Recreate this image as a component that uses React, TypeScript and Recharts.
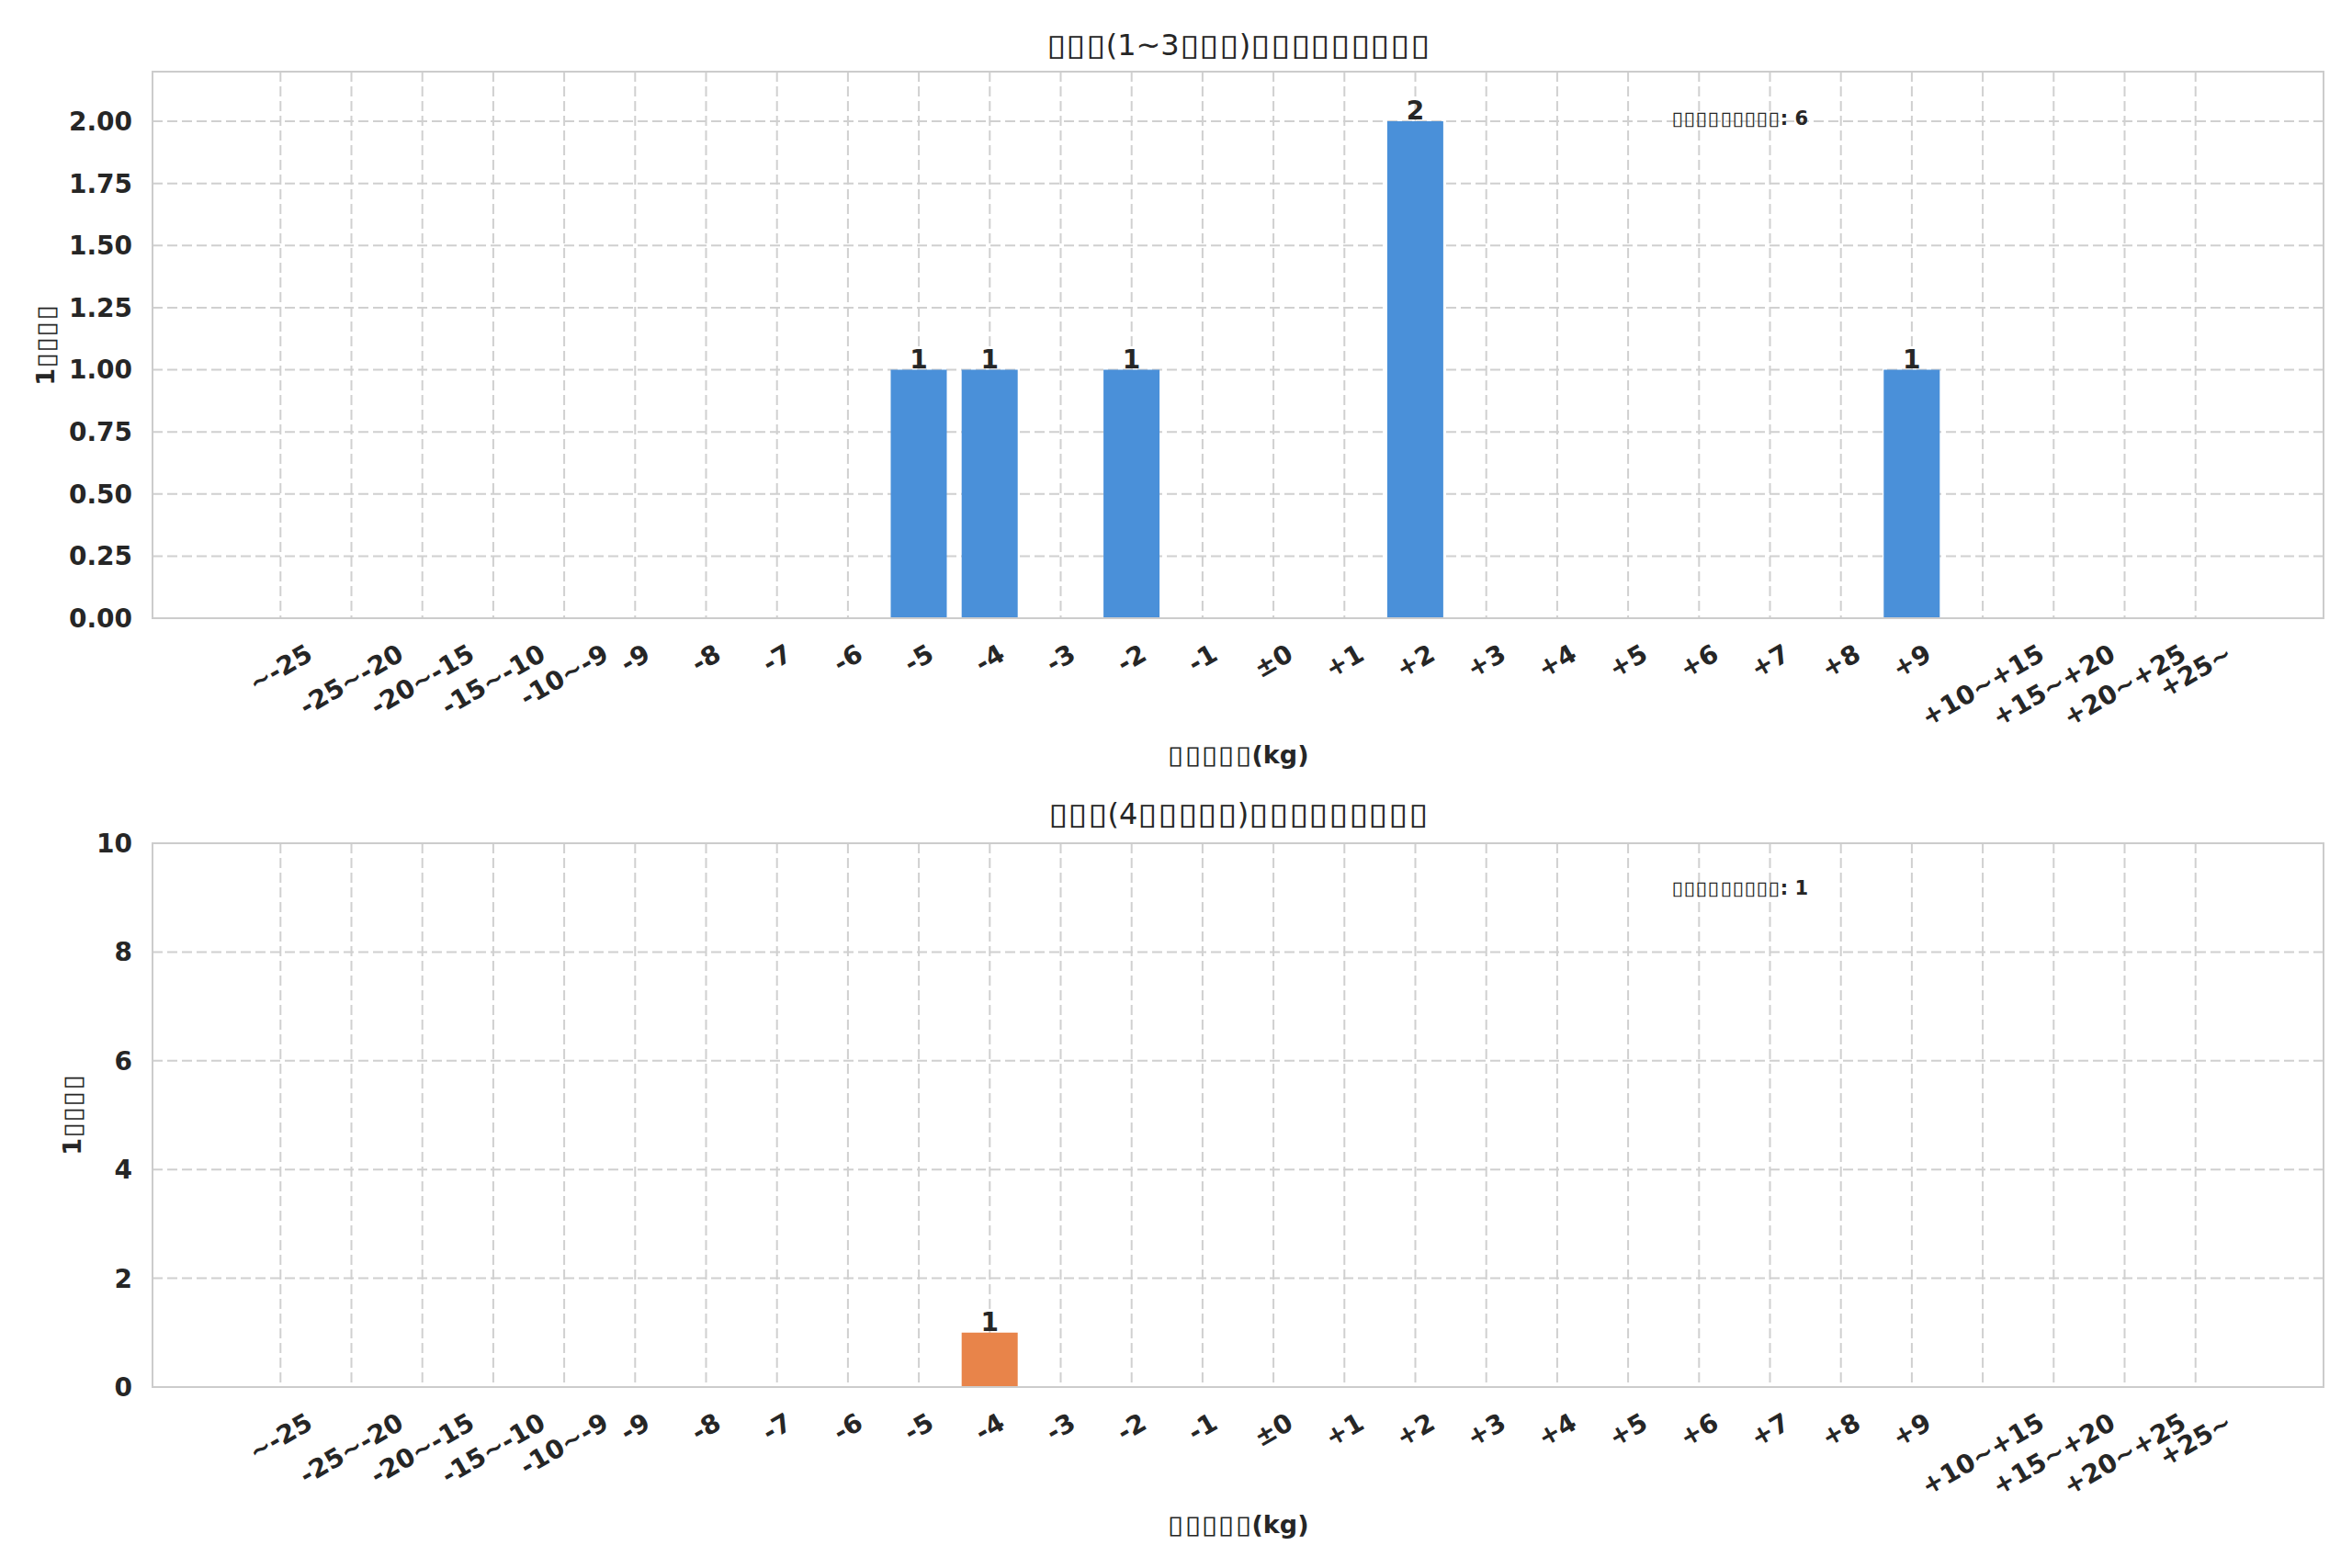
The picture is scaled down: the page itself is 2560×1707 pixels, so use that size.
import React from 'react';
import { BarChart, Bar, XAxis, YAxis, CartesianGrid, LabelList } from 'recharts';

const categories = ['~-25', '-25~-20', '-20~-15', '-15~-10', '-10~-9', '-9', '-8', '-7', '-6', '-5', '-4', '-3', '-2', '-1', '±0', '+1', '+2', '+3', '+4', '+5', '+6', '+7', '+8', '+9', '+10~+15', '+15~+20', '+20~+25', '+25~'];
const shortTermCounts = [0, 0, 0, 0, 0, 0, 0, 0, 0, 1, 1, 0, 1, 0, 0, 0, 2, 0, 0, 0, 0, 0, 0, 1, 0, 0, 0, 0];
const longTermCounts = [0, 0, 0, 0, 0, 0, 0, 0, 0, 0, 1, 0, 0, 0, 0, 0, 0, 0, 0, 0, 0, 0, 0, 0, 0, 0, 0, 0];
const shortTicks = [0, 0.25, 0.5, 0.75, 1.0, 1.25, 1.5, 1.75, 2.0];
const longTicks = [0, 2, 4, 6, 8, 10];

const shortTitle = '▯▯▯(1~3▯▯▯)▯▯▯▯▯▯▯▯▯';
const longTitle = '▯▯▯(4▯▯▯▯▯)▯▯▯▯▯▯▯▯▯';
const yLabel = '1▯▯▯▯';
const xLabel = '▯▯▯▯▯(kg)';
const shortNote = '▯▯▯▯▯▯▯▯▯: 6';
const longNote = '▯▯▯▯▯▯▯▯▯: 1';

const shortData = categories.map((c, i) => ({ label: c, count: shortTermCounts[i] }));
const longData = categories.map((c, i) => ({ label: c, count: longTermCounts[i] }));

const FONT = '"DejaVu Sans", sans-serif';
const TEXT = '#262626';
const PL = 166;
const PR = 2529;
const PW = PR - PL;
const TICK_FS = 28;

const CW: Record<string, number> = { '-': 0.415, '+': 0.838, '~': 0.838, '±': 0.838, '.': 0.38 };

function Boxed({ text, pitch, k }: { text: string; pitch: number; k: number }) {
  return (
    <>
      {Array.from(text).map((ch, i) =>
        ch === '▯' ? (
          <span key={i} style={{ display: 'inline-block', width: pitch, textAlign: 'center' }}>
            <span style={{ display: 'inline-block', transform: `scaleX(${k})` }}>{ch}</span>
          </span>
        ) : (
          <span key={i}>{ch}</span>
        )
      )}
    </>
  );
}

function XTick(props: any) {
  const { x, y, payload } = props;
  const s = String(payload.value);
  const fs = TICK_FS;
  let w = 0;
  for (const ch of s) w += (CW[ch] ?? 0.696) * fs;
  const h = fs * 1.164;
  const H = w * 0.5 + h * 0.866;
  const cy = y + 22 + H / 2;
  return (
    <text x={x} y={cy} textAnchor="middle" dominantBaseline="central" transform={`rotate(-30, ${x}, ${cy})`}
      fill={TEXT} fontFamily={FONT} fontWeight="bold" fontSize={fs}>{s}</text>
  );
}

function BarValue(props: any) {
  const { x, y, width, value } = props;
  if (!value) return null;
  return (
    <text x={Number(x) + Number(width) / 2} y={Number(y) - 2} textAnchor="middle" fill={TEXT}
      fontFamily={FONT} fontWeight="bold" fontSize={28}>{value}</text>
  );
}

function Panel(props: { top: number; height: number; plotTop: number; plotBottom: number; data: any[]; ticks: number[]; domain: [number, number]; fmt: (v: number) => string; color: string; title: string; note: string; titleY: number; noteY: number; yLabelX: number; xLabelY: number }) {
  const { top, height, plotTop, plotBottom, data, ticks, domain, fmt, color, title, note, titleY, noteY, yLabelX, xLabelY } = props;
  const xh = 150;
  const mTop = plotTop - top;
  const mBottom = height - (plotBottom - top) - xh;
  const bandPad = 100.7;
  return (
    <>
      <div style={{ position: 'absolute', left: 0, top, width: 2560, height }}>
        <BarChart width={2560} height={height} data={data} margin={{ top: mTop, right: 2560 - PR, left: PL - 100, bottom: mBottom }} barSize={61}>
          <CartesianGrid stroke="#d0d0d0" strokeWidth={2} strokeDasharray="11 5" />
          <XAxis dataKey="label" interval={0} tickLine={false} axisLine={false} tickSize={0} tickMargin={0} height={xh}
            padding={{ left: bandPad, right: bandPad }} tick={<XTick />} />
          <YAxis type="number" domain={domain} ticks={ticks} width={100} tickLine={false} axisLine={false} tickSize={0} tickMargin={22}
            tickFormatter={fmt} tick={{ fill: TEXT, fontFamily: FONT, fontWeight: 'bold', fontSize: TICK_FS }} allowDataOverflow />
          <Bar dataKey="count" fill={color} isAnimationActive={false}>
            <LabelList dataKey="count" content={<BarValue />} />
          </Bar>
        </BarChart>
      </div>
      <div style={{ position: 'absolute', left: PL - 1, top: plotTop - 1, width: PW + 2, height: plotBottom - plotTop + 2, border: '2px solid #cccccc', boxSizing: 'border-box', pointerEvents: 'none' }} />
      <div style={{ position: 'absolute', left: PL, width: PW, top: titleY, transform: 'translateY(-50%)', textAlign: 'center', fontFamily: FONT, fontSize: 32, lineHeight: 1, color: TEXT, whiteSpace: 'nowrap' }}><Boxed text={title} pitch={21.7} k={1.2} /></div>
      <div style={{ position: 'absolute', left: 1819, top: noteY, transform: 'translateY(-50%)', fontFamily: FONT, fontWeight: 'bold', fontSize: 21, lineHeight: 1, color: TEXT, whiteSpace: 'nowrap' }}><Boxed text={note} pitch={13.2} k={1.08} /></div>
      <div style={{ position: 'absolute', left: yLabelX, top: (plotTop + plotBottom) / 2, transform: 'translate(-50%, -50%) rotate(-90deg)', fontFamily: FONT, fontWeight: 'bold', fontSize: 27, lineHeight: 1, color: TEXT, whiteSpace: 'nowrap' }}><Boxed text={yLabel} pitch={17.2} k={1.1} /></div>
      <div style={{ position: 'absolute', left: PL, width: PW, top: xLabelY, transform: 'translateY(-50%)', textAlign: 'center', fontFamily: FONT, fontWeight: 'bold', fontSize: 27, lineHeight: 1, color: TEXT, whiteSpace: 'nowrap' }}><Boxed text={xLabel} pitch={18.4} k={1.18} /></div>
    </>
  );
}

export default function App() {
  return (
    <div style={{ position: 'absolute', left: 0, top: 0, width: 2560, height: 1707, background: '#ffffff', overflow: 'hidden' }}>
      <Panel top={0} height={853} plotTop={78} plotBottom={673} data={shortData} ticks={shortTicks} domain={[0, 2.2]}
        fmt={(v) => v.toFixed(2)} color="#4a90d9" title={shortTitle} note={shortNote} titleY={49} noteY={129} yLabelX={49} xLabelY={821} />
      <Panel top={853} height={854} plotTop={918} plotBottom={1510} data={longData} ticks={longTicks} domain={[0, 10]}
        fmt={(v) => String(v)} color="#e8844a" title={longTitle} note={longNote} titleY={886} noteY={967} yLabelX={78} xLabelY={1659} />
    </div>
  );
}
